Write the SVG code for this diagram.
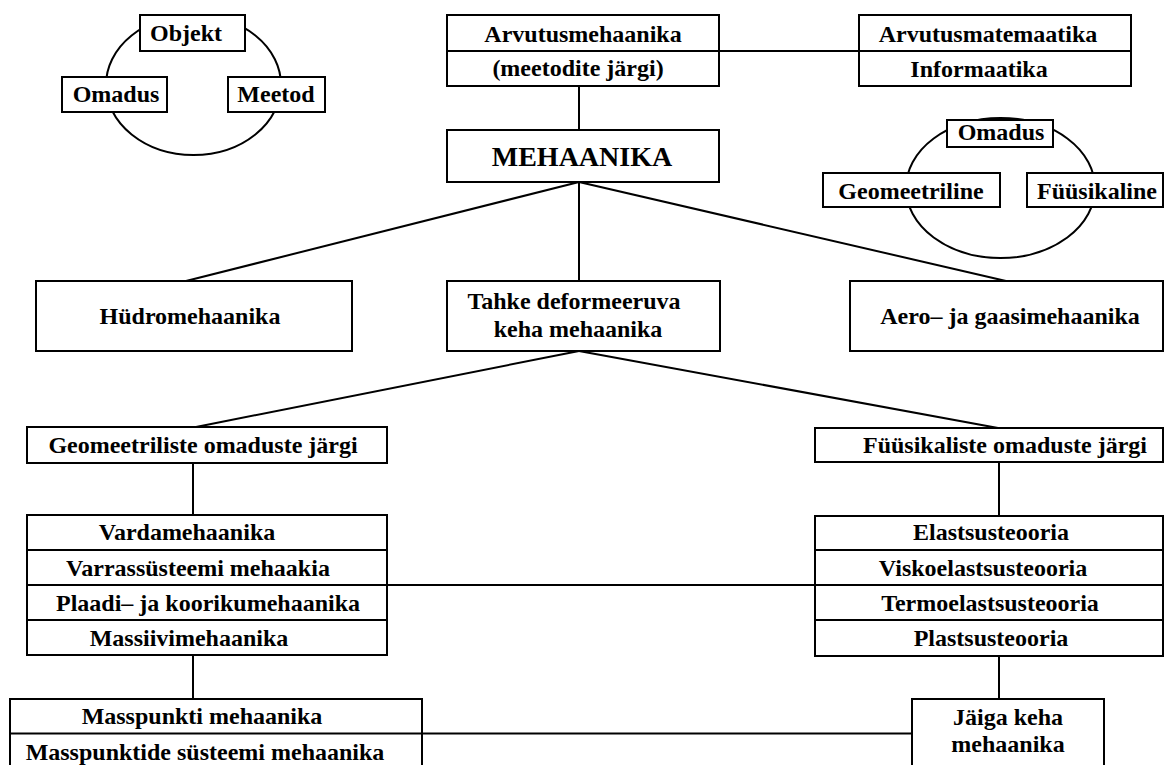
<svg xmlns="http://www.w3.org/2000/svg" width="1164" height="765" viewBox="0 0 1164 765">
<style>
rect{fill:#fff;stroke:#000;stroke-width:2}
ellipse{fill:none;stroke:#000;stroke-width:2}
line{stroke:#000;stroke-width:2}
text{font-family:"Liberation Serif","Times New Roman",serif;font-weight:bold;font-size:24px;fill:#000;text-anchor:middle}
.big{font-size:28px}
</style>
<rect x="0" y="0" width="1164" height="765" style="stroke:none"/>
<g id="connectors">
<ellipse cx="193.5" cy="85" rx="87.5" ry="70"/>
<ellipse cx="1000.5" cy="188" rx="94.5" ry="70"/>
<line x1="719" y1="51" x2="859" y2="51"/>
<line x1="579" y1="86" x2="579" y2="130"/>
<line x1="579" y1="182" x2="186" y2="281"/>
<line x1="579" y1="182" x2="579" y2="281"/>
<line x1="579" y1="182" x2="1006" y2="281"/>
<line x1="579" y1="351" x2="196" y2="427"/>
<line x1="579" y1="351" x2="998" y2="428"/>
<line x1="193" y1="463" x2="193" y2="515"/>
<line x1="999" y1="462" x2="999" y2="516"/>
<line x1="387" y1="585" x2="815" y2="585"/>
<line x1="193" y1="655" x2="193" y2="699"/>
<line x1="999" y1="655" x2="999" y2="699"/>
<line x1="422" y1="733.5" x2="912" y2="733.5"/>
</g>
<g id="objekt"><rect x="140" y="15" width="105" height="36"/><text x="186" y="41">Objekt</text></g>
<g id="omadus-l"><rect x="62" y="77" width="105" height="35"/><text x="116" y="102">Omadus</text></g>
<g id="meetod"><rect x="228" y="77" width="97" height="35"/><text x="276" y="102">Meetod</text></g>
<g id="arvutusmehaanika"><rect x="447" y="15" width="272" height="71"/><line x1="447" y1="51" x2="719" y2="51"/><text x="583" y="42">Arvutusmehaanika</text><text x="578" y="76">(meetodite järgi)</text></g>
<g id="arvutusmatemaatika"><rect x="859" y="15" width="272" height="71"/><line x1="859" y1="51" x2="1131" y2="51"/><text x="988" y="42">Arvutusmatemaatika</text><text x="979" y="77">Informaatika</text></g>
<g id="mehaanika"><rect x="447" y="130" width="272" height="52"/><text class="big" x="582" y="166">MEHAANIKA</text></g>
<g id="omadus-r"><rect x="947" y="120" width="106" height="27"/><text x="1001" y="140">Omadus</text></g>
<g id="geomeetriline"><rect x="823" y="173" width="177" height="34"/><text x="911" y="199">Geomeetriline</text></g>
<g id="fyysikaline"><rect x="1027" y="173" width="136" height="34"/><text x="1097" y="199">Füüsikaline</text></g>
<g id="hydro"><rect x="36" y="281" width="316" height="70"/><text x="190" y="324">Hüdromehaanika</text></g>
<g id="tahke"><rect x="447" y="281" width="273" height="70"/><text x="574" y="309">Tahke deformeeruva</text><text x="578" y="337">keha mehaanika</text></g>
<g id="aero"><rect x="850" y="281" width="313" height="70"/><text x="1010" y="324">Aero– ja gaasimehaanika</text></g>
<g id="geom-jargi"><rect x="27" y="427" width="360" height="36"/><text x="203" y="453">Geomeetriliste omaduste järgi</text></g>
<g id="fyys-jargi"><rect x="815" y="428" width="348" height="34"/><text x="1005" y="453">Füüsikaliste omaduste järgi</text></g>
<g id="geom-stack"><rect x="27" y="515" width="360" height="140"/><line x1="27" y1="550" x2="387" y2="550"/><line x1="27" y1="585" x2="387" y2="585"/><line x1="27" y1="620" x2="387" y2="620"/>
<text x="187" y="540">Vardamehaanika</text><text x="198" y="576">Varrassüsteemi mehaakia</text><text x="208" y="611">Plaadi– ja koorikumehaanika</text><text x="189" y="646">Massiivimehaanika</text></g>
<g id="fyys-stack"><rect x="815" y="516" width="348" height="140"/><line x1="815" y1="550" x2="1163" y2="550"/><line x1="815" y1="585" x2="1163" y2="585"/><line x1="815" y1="620" x2="1163" y2="620"/>
<text x="991" y="540">Elastsusteooria</text><text x="983" y="576">Viskoelastsusteooria</text><text x="990" y="611">Termoelastsusteooria</text><text x="991" y="646">Plastsusteooria</text></g>
<g id="masspunkt"><rect x="10" y="699" width="412" height="75"/><line x1="10" y1="733.5" x2="422" y2="733.5"/><text x="202" y="724">Masspunkti mehaanika</text><text x="205" y="760">Masspunktide süsteemi mehaanika</text></g>
<g id="jaiga"><rect x="912" y="699" width="192" height="75"/><text x="1008" y="725">Jäiga keha</text><text x="1008" y="752">mehaanika</text></g>
</svg>
